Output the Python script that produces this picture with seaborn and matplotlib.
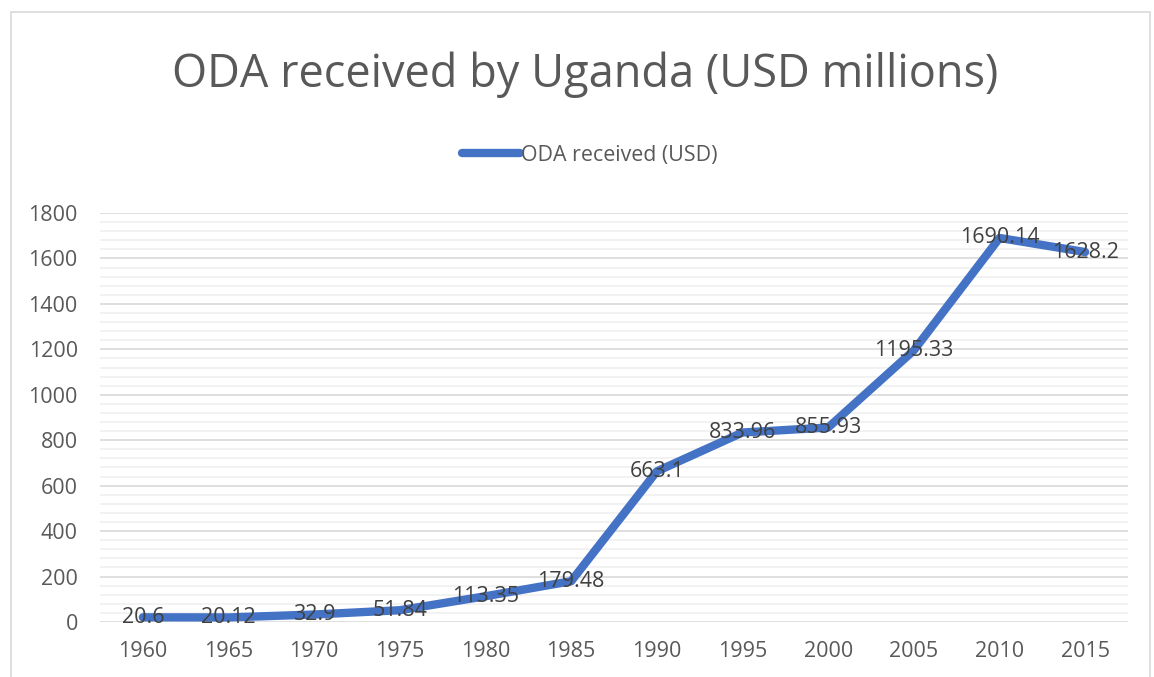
import matplotlib.pyplot as plt
import seaborn as sns
import pandas as pd
from matplotlib.patches import Rectangle
from matplotlib.ticker import MultipleLocator

years = ['1960', '1965', '1970', '1975', '1980', '1985', '1990', '1995', '2000', '2005', '2010', '2015']
oda = [20.6, 20.12, 32.9, 51.84, 113.35, 179.48, 663.1, 833.96, 855.93, 1195.33, 1690.14, 1628.2]

df = pd.DataFrame({'year': years, 'oda': oda})
df['pos'] = range(len(years))

sns.set_style('white')
plt.rcParams['font.family'] = ['Open Sans', 'DejaVu Sans']

fig = plt.figure(figsize=(11.54, 6.77), dpi=100)
ax = fig.add_axes([100 / 1154, 1 - 622 / 677, 1028 / 1154, 409 / 677])

# рамка вокруг диаграммы, как в Excel
fig.patches.append(Rectangle((11 / 1154, -0.1), 1139 / 1154, 1.1 - 12 / 677,
                             transform=fig.transFigure, fill=False,
                             edgecolor='#d9d9d9', linewidth=1.2))

sns.lineplot(x='pos', y='oda', data=df, ax=ax, color='#4472C4', linewidth=6,
             solid_capstyle='round', label='ODA received (USD)', legend=False)

for p, v in zip(df['pos'], df['oda']):
    ax.text(p, v, f'{v:g}', ha='center', va='center', fontsize=15.5, color='#404040')

ax.set_xlim(-0.5, len(years) - 0.5)
ax.set_ylim(0, 1800)
ax.set_xticks(df['pos'])
ax.set_xticklabels(years)
ax.yaxis.set_major_locator(MultipleLocator(200))
ax.yaxis.set_minor_locator(MultipleLocator(40))
ax.grid(axis='y', which='major', color='#d9d9d9', linewidth=1.2)
ax.grid(axis='y', which='minor', color='#f0f0f0', linewidth=1.2)
ax.set_axisbelow(True)
sns.despine(ax=ax, left=True, bottom=True)
ax.tick_params(axis='both', which='both', length=0, labelsize=15.5, colors='#595959')
ax.tick_params(axis='y', pad=16)
ax.tick_params(axis='x', pad=14)
ax.set_xlabel('')
ax.set_ylabel('')

fig.text(585 / 1154, 1 - 75 / 677, 'ODA received by Uganda (USD millions)', ha='center', va='center',
         fontsize=32.5, color='#595959')
leg = fig.legend(ax.get_lines()[:1], ['ODA received (USD)'], loc='center',
                 bbox_to_anchor=(590 / 1154, 1 - 155 / 677),
                 frameon=False, fontsize=15.4, handlelength=2.7, handletextpad=0.05)
for t in leg.get_texts():
    t.set_color('#595959')

fig.savefig('out.png', dpi=100)
